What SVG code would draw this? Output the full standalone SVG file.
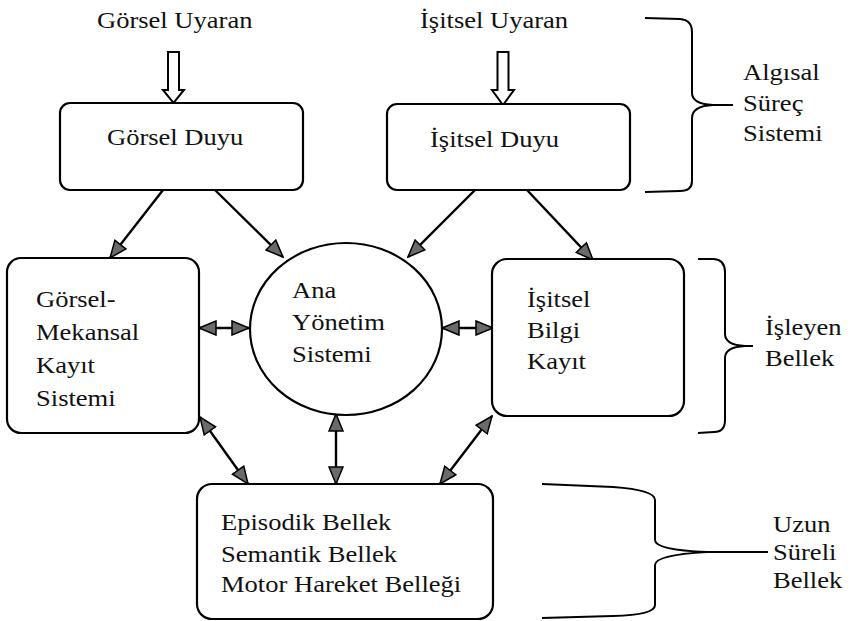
<svg xmlns="http://www.w3.org/2000/svg" width="856" height="621" viewBox="0 0 856 621">
<style>
  .box { fill: #fff; stroke: #000; stroke-width: 2.2; }
  .brace { fill: none; stroke: #000; stroke-width: 2; }
  .conn { stroke: #000; stroke-width: 2.4; fill: none; }
  .hollow { fill: #fff; stroke: #000; stroke-width: 2; }
  text { font-family: "Liberation Serif", "Times New Roman", serif; font-size: 22.5px; fill: #111; }
</style>
<defs>
  <marker id="ah" markerUnits="userSpaceOnUse" markerWidth="20" markerHeight="16" viewBox="0 0 20 16" refX="18" refY="8" orient="auto-start-reverse">
    <path d="M1,1 L18,8 L1,15 Z" fill="#6a6a6a" stroke="#000" stroke-width="1.5" stroke-linejoin="miter"/>
  </marker>
</defs>
<rect width="856" height="621" fill="#fff"/>

<g id="connectors">
  <path class="hollow" d="M168,52 H179 V90 H184 L173.5,103 L163,90 H168 Z"/>
  <path class="hollow" d="M497.5,52 H508.5 V90 H514 L503,105 L492,90 H497.5 Z"/>
  <line class="conn" x1="163" y1="190" x2="110" y2="258" marker-end="url(#ah)"/>
  <line class="conn" x1="215" y1="190" x2="283" y2="257" marker-end="url(#ah)"/>
  <line class="conn" x1="475" y1="190" x2="408" y2="257" marker-end="url(#ah)"/>
  <line class="conn" x1="527" y1="190" x2="593" y2="260" marker-end="url(#ah)"/>
  <line class="conn" x1="199" y1="328" x2="249" y2="328" marker-start="url(#ah)" marker-end="url(#ah)"/>
  <line class="conn" x1="442" y1="328" x2="493" y2="328" marker-start="url(#ah)" marker-end="url(#ah)"/>
  <line class="conn" x1="200" y1="417" x2="248" y2="484" marker-start="url(#ah)" marker-end="url(#ah)"/>
  <line class="conn" x1="336" y1="414" x2="336" y2="484" marker-start="url(#ah)" marker-end="url(#ah)"/>
  <line class="conn" x1="492" y1="416" x2="440" y2="484" marker-start="url(#ah)" marker-end="url(#ah)"/>
</g>

<g id="gorsel-uyaran">
  <text transform="translate(97 28) scale(1.18 1)">Görsel Uyaran</text>
</g>
<g id="isitsel-uyaran">
  <text transform="translate(420 28) scale(1.18 1)">İşitsel Uyaran</text>
</g>

<g id="gorsel-duyu">
  <rect class="box" x="60" y="103" width="243" height="87" rx="10"/>
  <text transform="translate(107 145) scale(1.18 1)">Görsel Duyu</text>
</g>
<g id="isitsel-duyu">
  <rect class="box" x="387" y="104" width="243" height="86" rx="10"/>
  <text transform="translate(430 147) scale(1.18 1)">İşitsel Duyu</text>
</g>

<g id="gorsel-mekansal">
  <rect class="box" x="7" y="258" width="192" height="175" rx="14"/>
  <text transform="translate(36 307) scale(1.18 1)"><tspan x="0" y="0">Görsel-</tspan><tspan x="0" y="33">Mekansal</tspan><tspan x="0" y="66">Kayıt</tspan><tspan x="0" y="99">Sistemi</tspan></text>
</g>

<g id="ana-yonetim">
  <ellipse class="box" cx="346" cy="329" rx="96" ry="86"/>
  <text transform="translate(292 298) scale(1.18 1)"><tspan x="0" y="0">Ana</tspan><tspan x="0" y="32">Yönetim</tspan><tspan x="0" y="64">Sistemi</tspan></text>
</g>

<g id="isitsel-bilgi">
  <rect class="box" x="492" y="259" width="192" height="157" rx="15"/>
  <text transform="translate(527 307) scale(1.18 1)"><tspan x="0" y="0">İşitsel</tspan><tspan x="0" y="31">Bilgi</tspan><tspan x="0" y="62">Kayıt</tspan></text>
</g>

<g id="uzun-sureli-kutu">
  <rect class="box" x="197" y="484" width="296" height="135" rx="15"/>
  <text transform="translate(221 530) scale(1.18 1)"><tspan x="0" y="0">Episodik Bellek</tspan><tspan x="0" y="32">Semantik Bellek</tspan><tspan x="0" y="62">Motor Hareket Belleği</tspan></text>
</g>

<g id="algisal-surec">
  <path class="brace" d="M645,18 L680,19 Q692,20 692,32 L692,93 Q692,104 713,105 L733,105 M713,105 Q692,106 692,118 L692,181 Q692,191 680,191 L645,192"/>
  <text transform="translate(743 80) scale(1.18 1)"><tspan x="0" y="0">Algısal</tspan><tspan x="0" y="31">Süreç</tspan><tspan x="0" y="61">Sistemi</tspan></text>
</g>

<g id="isleyen-bellek">
  <path class="brace" d="M698,259 L714,259 Q725,260 725,272 L725,334 Q725,345 745,346 L753,346 M745,346 Q725,347 725,358 L725,420 Q725,432 714,432 L698,433"/>
  <text transform="translate(765 335) scale(1.18 1)"><tspan x="0" y="0">İşleyen</tspan><tspan x="0" y="31">Bellek</tspan></text>
</g>

<g id="uzun-sureli-bellek">
  <path class="brace" d="M542,484 L613,487 Q655,490 655,500 L655,540 Q655,550 707,552 L768,552 M707,552 Q655,555 655,565 L655,605 Q655,615 613,616 L542,618"/>
  <text transform="translate(773 532) scale(1.18 1)"><tspan x="0" y="0">Uzun</tspan><tspan x="0" y="28">Süreli</tspan><tspan x="0" y="56">Bellek</tspan></text>
</g>
</svg>
